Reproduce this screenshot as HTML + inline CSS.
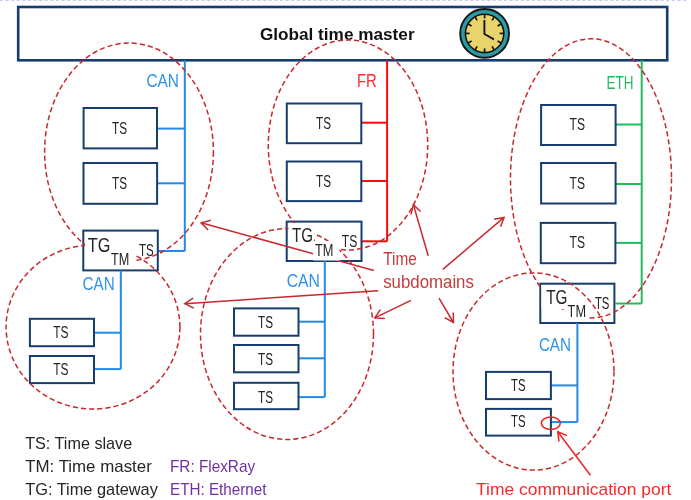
<!DOCTYPE html>
<html><head><meta charset="utf-8"><style>
html,body{margin:0;padding:0;background:#fff;width:691px;height:500px;overflow:hidden}
svg{display:block;will-change:transform;font-family:"Liberation Sans",sans-serif}
</style></head><body>
<svg width="691" height="500" viewBox="0 0 691 500">
<line x1="0" y1="0.5" x2="689" y2="0.5" stroke="#d3c6ea" stroke-width="1.2" stroke-dasharray="3,2.6"/>
<rect x="18.2" y="7.0" width="649.0" height="53.3" fill="#fff" stroke="#173d6e" stroke-width="2.6"/>
<text x="259.9" y="39.7" font-size="17" fill="#111" font-weight="bold" textLength="154.7" lengthAdjust="spacingAndGlyphs">Global time master</text>
<circle cx="484.6" cy="33.4" r="24.4" fill="#2b9ba6" stroke="#151515" stroke-width="1.9"/>
<circle cx="484.6" cy="33.4" r="19.2" fill="#e9d46c" stroke="#151515" stroke-width="1.6"/>
<line x1="484.60" y1="18.40" x2="484.60" y2="13.90" stroke="#151515" stroke-width="1.7"/>
<line x1="492.10" y1="20.41" x2="494.35" y2="16.51" stroke="#151515" stroke-width="1.7"/>
<line x1="497.59" y1="25.90" x2="501.49" y2="23.65" stroke="#151515" stroke-width="1.7"/>
<line x1="499.60" y1="33.40" x2="504.10" y2="33.40" stroke="#151515" stroke-width="1.7"/>
<line x1="497.59" y1="40.90" x2="501.49" y2="43.15" stroke="#151515" stroke-width="1.7"/>
<line x1="492.10" y1="46.39" x2="494.35" y2="50.29" stroke="#151515" stroke-width="1.7"/>
<line x1="484.60" y1="48.40" x2="484.60" y2="52.90" stroke="#151515" stroke-width="1.7"/>
<line x1="477.10" y1="46.39" x2="474.85" y2="50.29" stroke="#151515" stroke-width="1.7"/>
<line x1="471.61" y1="40.90" x2="467.71" y2="43.15" stroke="#151515" stroke-width="1.7"/>
<line x1="469.60" y1="33.40" x2="465.10" y2="33.40" stroke="#151515" stroke-width="1.7"/>
<line x1="471.61" y1="25.90" x2="467.71" y2="23.65" stroke="#151515" stroke-width="1.7"/>
<line x1="477.10" y1="20.41" x2="474.85" y2="16.51" stroke="#151515" stroke-width="1.7"/>
<polyline points="484.40000000000003,19.9 484.40000000000003,34.0 493.90000000000003,39.4" fill="none" stroke="#151515" stroke-width="1.9" stroke-linejoin="round"/>
<line x1="184.8" y1="60.3" x2="184.8" y2="251" stroke="#238ae6" stroke-width="2"/>
<line x1="157" y1="128.6" x2="184.8" y2="128.6" stroke="#238ae6" stroke-width="2"/>
<line x1="157" y1="183.3" x2="184.8" y2="183.3" stroke="#238ae6" stroke-width="2"/>
<line x1="157" y1="251" x2="184.8" y2="251" stroke="#238ae6" stroke-width="2"/>
<rect x="83.6" y="108" width="73.4" height="40.4" fill="#fff" stroke="#173d6e" stroke-width="2"/>
<rect x="83.5" y="163" width="73.6" height="40.8" fill="#fff" stroke="#173d6e" stroke-width="2"/>
<rect x="83.3" y="230.6" width="74.5" height="39.8" fill="#fff" stroke="#173d6e" stroke-width="2"/>
<text x="112" y="134" font-size="16" fill="#262626" font-weight="normal" textLength="15.0" lengthAdjust="spacingAndGlyphs">TS</text>
<text x="112" y="189" font-size="16" fill="#262626" font-weight="normal" textLength="15.0" lengthAdjust="spacingAndGlyphs">TS</text>
<text x="138.9" y="256.2" font-size="16" fill="#262626" font-weight="normal" textLength="14.8" lengthAdjust="spacingAndGlyphs">TS</text>
<text x="146.4" y="87.4" font-size="17.6" fill="#2f92ea" font-weight="normal" textLength="32.6" lengthAdjust="spacingAndGlyphs">CAN</text>
<line x1="120.8" y1="270.4" x2="120.8" y2="369.1" stroke="#238ae6" stroke-width="2"/>
<line x1="94" y1="332.7" x2="120.8" y2="332.7" stroke="#238ae6" stroke-width="2"/>
<line x1="94" y1="369.1" x2="120.8" y2="369.1" stroke="#238ae6" stroke-width="2"/>
<rect x="29.9" y="318.8" width="64.1" height="27.4" fill="#fff" stroke="#173d6e" stroke-width="2"/>
<rect x="29.9" y="356" width="64.1" height="27.1" fill="#fff" stroke="#173d6e" stroke-width="2"/>
<text x="53.2" y="338.3" font-size="16" fill="#262626" font-weight="normal" textLength="15.3" lengthAdjust="spacingAndGlyphs">TS</text>
<text x="53.2" y="375.3" font-size="16" fill="#262626" font-weight="normal" textLength="15.3" lengthAdjust="spacingAndGlyphs">TS</text>
<text x="82.5" y="290" font-size="17.6" fill="#2f92ea" font-weight="normal" textLength="32.2" lengthAdjust="spacingAndGlyphs">CAN</text>
<line x1="387.1" y1="60.3" x2="387.1" y2="241.3" stroke="#ff0a0a" stroke-width="2"/>
<line x1="361.3" y1="122.7" x2="387.1" y2="122.7" stroke="#ff0a0a" stroke-width="2"/>
<line x1="361.3" y1="181" x2="387.1" y2="181" stroke="#ff0a0a" stroke-width="2"/>
<line x1="361.3" y1="241.3" x2="387.1" y2="241.3" stroke="#ff0a0a" stroke-width="2"/>
<rect x="286.8" y="103.5" width="74.5" height="39.7" fill="#fff" stroke="#173d6e" stroke-width="2"/>
<rect x="286.8" y="161.5" width="74.5" height="39.6" fill="#fff" stroke="#173d6e" stroke-width="2"/>
<rect x="286.7" y="221.6" width="74.8" height="39.4" fill="#fff" stroke="#173d6e" stroke-width="2"/>
<text x="316" y="129" font-size="16" fill="#262626" font-weight="normal" textLength="15.0" lengthAdjust="spacingAndGlyphs">TS</text>
<text x="316" y="187" font-size="16" fill="#262626" font-weight="normal" textLength="15.0" lengthAdjust="spacingAndGlyphs">TS</text>
<text x="341.8" y="246.7" font-size="16" fill="#262626" font-weight="normal" textLength="15.5" lengthAdjust="spacingAndGlyphs">TS</text>
<text x="357" y="87" font-size="17.6" fill="#ff2a2a" font-weight="normal" textLength="19.8" lengthAdjust="spacingAndGlyphs">FR</text>
<line x1="324.8" y1="261" x2="324.8" y2="397.1" stroke="#238ae6" stroke-width="2"/>
<line x1="298.5" y1="321.7" x2="324.8" y2="321.7" stroke="#238ae6" stroke-width="2"/>
<line x1="298.5" y1="358.3" x2="324.8" y2="358.3" stroke="#238ae6" stroke-width="2"/>
<line x1="298.5" y1="397.1" x2="324.8" y2="397.1" stroke="#238ae6" stroke-width="2"/>
<rect x="234" y="308.4" width="64.5" height="27.3" fill="#fff" stroke="#173d6e" stroke-width="2"/>
<rect x="234" y="345" width="64.5" height="27.3" fill="#fff" stroke="#173d6e" stroke-width="2"/>
<rect x="234" y="382.8" width="64.5" height="26.4" fill="#fff" stroke="#173d6e" stroke-width="2"/>
<text x="258" y="328" font-size="16" fill="#262626" font-weight="normal" textLength="15.0" lengthAdjust="spacingAndGlyphs">TS</text>
<text x="258" y="364.5" font-size="16" fill="#262626" font-weight="normal" textLength="15.0" lengthAdjust="spacingAndGlyphs">TS</text>
<text x="258" y="402.5" font-size="16" fill="#262626" font-weight="normal" textLength="15.0" lengthAdjust="spacingAndGlyphs">TS</text>
<text x="286.7" y="286.8" font-size="17.6" fill="#2f92ea" font-weight="normal" textLength="33.2" lengthAdjust="spacingAndGlyphs">CAN</text>
<line x1="641.7" y1="60.3" x2="641.7" y2="303.5" stroke="#25b85e" stroke-width="2"/>
<line x1="615.5" y1="124.5" x2="641.7" y2="124.5" stroke="#25b85e" stroke-width="2"/>
<line x1="615.5" y1="184" x2="641.7" y2="184" stroke="#25b85e" stroke-width="2"/>
<line x1="615.5" y1="242.9" x2="641.7" y2="242.9" stroke="#25b85e" stroke-width="2"/>
<line x1="615.5" y1="303.5" x2="641.7" y2="303.5" stroke="#25b85e" stroke-width="2"/>
<rect x="541.1" y="105" width="74.5" height="40.0" fill="#fff" stroke="#173d6e" stroke-width="2"/>
<rect x="541.1" y="163" width="74.5" height="40.5" fill="#fff" stroke="#173d6e" stroke-width="2"/>
<rect x="540.8" y="222.9" width="74.6" height="40.3" fill="#fff" stroke="#173d6e" stroke-width="2"/>
<rect x="540.3" y="283.7" width="74.1" height="39.3" fill="#fff" stroke="#173d6e" stroke-width="2"/>
<text x="569.6" y="130" font-size="16" fill="#262626" font-weight="normal" textLength="15.4" lengthAdjust="spacingAndGlyphs">TS</text>
<text x="569.6" y="188.5" font-size="16" fill="#262626" font-weight="normal" textLength="15.4" lengthAdjust="spacingAndGlyphs">TS</text>
<text x="569.6" y="248" font-size="16" fill="#262626" font-weight="normal" textLength="15.4" lengthAdjust="spacingAndGlyphs">TS</text>
<text x="594.9" y="309.2" font-size="16" fill="#262626" font-weight="normal" textLength="14.5" lengthAdjust="spacingAndGlyphs">TS</text>
<text x="606.6" y="89.1" font-size="17.6" fill="#25b85e" font-weight="normal" textLength="27.0" lengthAdjust="spacingAndGlyphs">ETH</text>
<line x1="577.4" y1="323" x2="577.4" y2="422.1" stroke="#238ae6" stroke-width="2"/>
<line x1="550.9" y1="385.4" x2="577.4" y2="385.4" stroke="#238ae6" stroke-width="2"/>
<line x1="550.9" y1="422.1" x2="577.4" y2="422.1" stroke="#238ae6" stroke-width="2"/>
<rect x="486" y="371.9" width="64.9" height="27.2" fill="#fff" stroke="#173d6e" stroke-width="2"/>
<rect x="486" y="408.9" width="64.9" height="26.7" fill="#fff" stroke="#173d6e" stroke-width="2"/>
<text x="511" y="390.5" font-size="16" fill="#262626" font-weight="normal" textLength="14.5" lengthAdjust="spacingAndGlyphs">TS</text>
<text x="511" y="427.4" font-size="16" fill="#262626" font-weight="normal" textLength="14.5" lengthAdjust="spacingAndGlyphs">TS</text>
<text x="538.9" y="351" font-size="17.6" fill="#2f92ea" font-weight="normal" textLength="32.1" lengthAdjust="spacingAndGlyphs">CAN</text>
<ellipse cx="129" cy="151.8" rx="84.4" ry="108.8" fill="none" stroke="#c8282d" stroke-width="1.5" stroke-dasharray="5.2,3"/>
<ellipse cx="93" cy="327" rx="86.9" ry="82" fill="none" stroke="#c8282d" stroke-width="1.5" stroke-dasharray="5.2,3"/>
<ellipse cx="348" cy="145" rx="79.7" ry="105" fill="none" stroke="#c8282d" stroke-width="1.5" stroke-dasharray="5.2,3"/>
<ellipse cx="287" cy="334" rx="86.5" ry="105.5" fill="none" stroke="#c8282d" stroke-width="1.5" stroke-dasharray="5.2,3"/>
<ellipse cx="591" cy="178.4" rx="80.5" ry="139.6" fill="none" stroke="#c8282d" stroke-width="1.5" stroke-dasharray="5.2,3"/>
<ellipse cx="533.5" cy="371.5" rx="80.5" ry="98.6" fill="none" stroke="#c8282d" stroke-width="1.5" stroke-dasharray="5.2,3"/>
<ellipse cx="550.8" cy="423.2" rx="9.5" ry="6.2" fill="none" stroke="#ee2222" stroke-width="1.5"/>
<rect x="85" y="232" width="49.0" height="37.0" fill="#fff"/>
<rect x="288.5" y="223" width="25.5" height="21.0" fill="#fff"/>
<rect x="541.5" y="285" width="26.0" height="24.0" fill="#fff"/>
<text x="87.7" y="251.6" font-size="20" fill="#262626" font-weight="normal" textLength="22.6" lengthAdjust="spacingAndGlyphs">TG</text>
<text x="292" y="241.8" font-size="20" fill="#262626" font-weight="normal" textLength="21.0" lengthAdjust="spacingAndGlyphs">TG</text>
<text x="546.2" y="303.6" font-size="20.3" fill="#262626" font-weight="normal" textLength="21.2" lengthAdjust="spacingAndGlyphs">TG</text>
<line x1="373.9" y1="270.5" x2="201.1" y2="222.8" stroke="#c8282d" stroke-width="1.5"/>
<polyline points="208.12,229.92 201.1,222.8 210.78,220.28" fill="none" stroke="#c8282d" stroke-width="1.5"/>
<line x1="378.2" y1="290.8" x2="184.8" y2="303.7" stroke="#c8282d" stroke-width="1.5"/>
<polyline points="193.77,308.11 184.8,303.7 193.11,298.13" fill="none" stroke="#c8282d" stroke-width="1.5"/>
<line x1="410.9" y1="300.3" x2="374.8" y2="317.9" stroke="#c8282d" stroke-width="1.5"/>
<polyline points="384.78,318.60 374.8,317.9 380.39,309.61" fill="none" stroke="#c8282d" stroke-width="1.5"/>
<line x1="439" y1="298.2" x2="453.4" y2="322.5" stroke="#c8282d" stroke-width="1.5"/>
<polyline points="453.29,312.50 453.4,322.5 444.68,317.60" fill="none" stroke="#c8282d" stroke-width="1.5"/>
<line x1="442.8" y1="269.4" x2="504" y2="217.4" stroke="#c8282d" stroke-width="1.5"/>
<polyline points="494.16,219.20 504,217.4 500.64,226.82" fill="none" stroke="#c8282d" stroke-width="1.5"/>
<line x1="428.2" y1="255.8" x2="413.4" y2="204.6" stroke="#c8282d" stroke-width="1.5"/>
<polyline points="411.00,214.31 413.4,204.6 420.61,211.53" fill="none" stroke="#c8282d" stroke-width="1.5"/>
<line x1="590.4" y1="475.2" x2="557.8" y2="431.7" stroke="#ee2222" stroke-width="1.5"/>
<polyline points="558.99,441.63 557.8,431.7 566.99,435.63" fill="none" stroke="#ee2222" stroke-width="1.5"/>
<rect x="313" y="241" width="26.5" height="19.5" fill="#fff"/>
<rect x="566" y="306.5" width="22.0" height="15.0" fill="#fff"/>
<text x="111" y="265" font-size="16" fill="#262626" font-weight="normal" textLength="18.3" lengthAdjust="spacingAndGlyphs">TM</text>
<text x="315" y="256" font-size="16" fill="#262626" font-weight="normal" textLength="18.5" lengthAdjust="spacingAndGlyphs">TM</text>
<text x="567.6" y="317" font-size="16.2" fill="#262626" font-weight="normal" textLength="18.4" lengthAdjust="spacingAndGlyphs">TM</text>
<text x="383.2" y="265.2" font-size="17.5" fill="#c83a3c" font-weight="normal" textLength="33.5" lengthAdjust="spacingAndGlyphs">Time</text>
<text x="383.2" y="287.9" font-size="17.5" fill="#c83a3c" font-weight="normal" textLength="90.7" lengthAdjust="spacingAndGlyphs">subdomains</text>
<text x="476" y="495.2" font-size="17" fill="#f52a2a" font-weight="normal" textLength="195.3" lengthAdjust="spacingAndGlyphs">Time communication port</text>
<text x="25.2" y="448.9" font-size="17" fill="#262626" font-weight="normal" textLength="107.0" lengthAdjust="spacingAndGlyphs">TS: Time slave</text>
<text x="25.2" y="472.2" font-size="17" fill="#262626" font-weight="normal" textLength="126.6" lengthAdjust="spacingAndGlyphs">TM: Time master</text>
<text x="25.2" y="494.9" font-size="17" fill="#262626" font-weight="normal" textLength="132.7" lengthAdjust="spacingAndGlyphs">TG: Time gateway</text>
<text x="170" y="472.2" font-size="17" fill="#7030a0" font-weight="normal" textLength="85.1" lengthAdjust="spacingAndGlyphs">FR: FlexRay</text>
<text x="170" y="494.9" font-size="17" fill="#7030a0" font-weight="normal" textLength="96.5" lengthAdjust="spacingAndGlyphs">ETH: Ethernet</text>
</svg>
</body></html>
